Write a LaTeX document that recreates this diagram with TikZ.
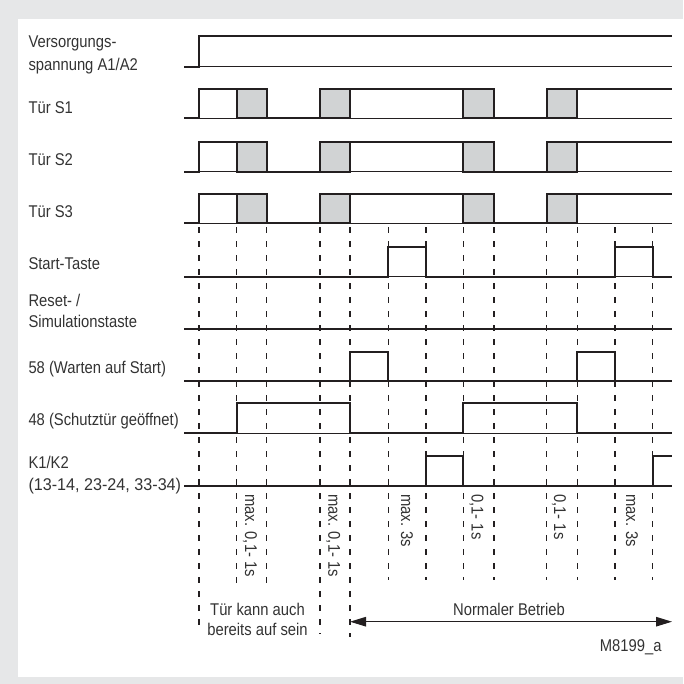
\documentclass[tikz,border=0pt]{standalone}
\usepackage{fontspec}
\setmainfont{Liberation Sans}[FakeStretch=0.87]
\newfontfamily\digitfont{Liberation Sans}[FakeStretch=0.95]
\usetikzlibrary{arrows.meta}
\definecolor{bg}{HTML}{E6E7E8}
\definecolor{ink}{HTML}{231F20}
\definecolor{txt}{HTML}{333333}
\definecolor{boxgray}{HTML}{D1D3D4}
\begin{document}
\begin{tikzpicture}[x=1pt,y=-1pt,
  thk/.style={draw=ink,line width=2.2pt,line join=miter},
  thn/.style={draw=ink,line width=1.1pt},
  dsh/.style={draw=ink,line width=1.1pt,dash pattern=on 5.5pt off 8.5pt,dash phase=-4pt},
  lbl/.style={text=txt,font=\fontsize{17}{20}\selectfont,inner sep=0pt,anchor=base west},
  ctr/.style={lbl,anchor=base},
  rlbl/.style={lbl,rotate=-90},
  gbox/.style={fill=boxgray,draw=ink,line width=2.2pt},
  arr/.style={thn,{Triangle[length=16pt,width=9.5pt]}-{Triangle[length=16pt,width=9.5pt]}}]
% frame
\fill[bg] (0,0) rectangle (683,684);
\fill[white] (18,19) rectangle (683,677);
\useasboundingbox (0,0) rectangle (683,684);
% dashed guide lines
\foreach \x/\e in {199/632,236.7/583,266.7/583,320/634,350/637,388.3/580,426/580,463.3/580,494/580,546.7/580,577.3/580,615/580,652.7/580}
  \draw[dsh] (\x,223.3) -- (\x,\e);
% Versorgungsspannung
\draw[thn] (199,66.7) -- (672,66.7);
\draw[thk] (184,66.7) -- (199,66.7) -- (199,36) -- (672,36);
% Doors
\foreach \h/\b in {89.3/118.3,141.7/171.7,194/223.3}{
  \draw[thn] (199,\b) -- (672,\b);
  \draw[thk] (184,\b) -- (199,\b) -- (199,\h) -- (236.7,\h);
  \draw[thk] (266.7,\b) -- (320,\b);
  \draw[thk] (350,\h) -- (463.3,\h);
  \draw[thk] (494,\b) -- (546.7,\b);
  \draw[thk] (577.3,\h) -- (672,\h);
  \foreach \l/\r in {236.7/266.7,320/350,463.3/494,546.7/577.3}
    \draw[gbox] (\l,\h) rectangle (\r,\b);
}
% Start-Taste
\draw[thn] (184,276.7) -- (672,276.7);
\draw[thk] (184,276.7) -- (388.3,276.7) -- (388.3,246.7) -- (426,246.7) -- (426,276.7) -- (615,276.7) -- (615,246.7) -- (652.7,246.7) -- (652.7,276.7) -- (672,276.7);
% Reset
\draw[thk] (184,329) -- (672,329);
% 58
\draw[thn] (184,381) -- (672,381);
\draw[thk] (184,381) -- (350,381) -- (350,351.7) -- (388.3,351.7) -- (388.3,381) -- (577.3,381) -- (577.3,351.7) -- (615,351.7) -- (615,381) -- (672,381);
% 48
\draw[thn] (184,433.3) -- (672,433.3);
\draw[thk] (184,433.3) -- (236.7,433.3) -- (236.7,403.3) -- (350,403.3) -- (350,433.3) -- (463.3,433.3) -- (463.3,403.3) -- (577.3,403.3) -- (577.3,433.3) -- (672,433.3);
% K1/K2
\draw[thn] (184,486) -- (672,486);
\draw[thk] (184,486) -- (426,486) -- (426,456) -- (463.3,456) -- (463.3,486) -- (652.7,486) -- (652.7,456) -- (672,456);
% labels
\node[lbl] (l1a) at (28.3,47.7) {Versorgungs-};
\node[lbl] (l1b) at (28.3,71) {spannung A1/A2};
\node[lbl] (l2) at (28.3,113.3) {Tür S1};
\node[lbl] (l3) at (28.3,165.7) {Tür S2};
\node[lbl] (l4) at (28.3,217.3) {Tür S3};
\node[lbl] (l5) at (28.3,269.3) {Start-Taste};
\node[lbl] (l6a) at (28.3,306.7) {Reset- /};
\node[lbl] (l6b) at (28.3,327.3) {Simulationstaste};
\node[lbl] (l7) at (28.3,373.3) {58 (Warten auf Start)};
\node[lbl] (l8) at (28.3,425) {48 (Schutztür geöffnet)};
\node[lbl] (l9a) at (28.3,468.3) {K1/K2};
\node[lbl] (l9b) at (28.3,490.5) {\digitfont (13-14, 23-24, 33-34)};
% rotated timing labels
\node[rlbl] (t1) at (245,494) {max. 0,1- 1s};
\node[rlbl] (t2) at (328.3,494) {max. 0,1- 1s};
\node[rlbl] (t3) at (401,494) {max. 3s};
\node[rlbl] (t4) at (471.7,494) {0,1- 1s};
\node[rlbl] (t5) at (554,494) {0,1- 1s};
\node[rlbl] (t6) at (626,494) {max. 3s};
% bottom
\node[ctr] (b1) at (257.5,615) {Tür kann auch};
\node[ctr] (b2) at (257.5,635) {bereits auf sein};
\coordinate (nl) at (350,621.7);
\coordinate (nr) at (672,621.7);
\draw[arr] (nl) -- (nr);
\node[ctr] (nb) at (509,615) {Normaler Betrieb};
\node[lbl,anchor=base east] (id) at (661.7,651.7) {M8199\_a};
\end{tikzpicture}
\end{document}
